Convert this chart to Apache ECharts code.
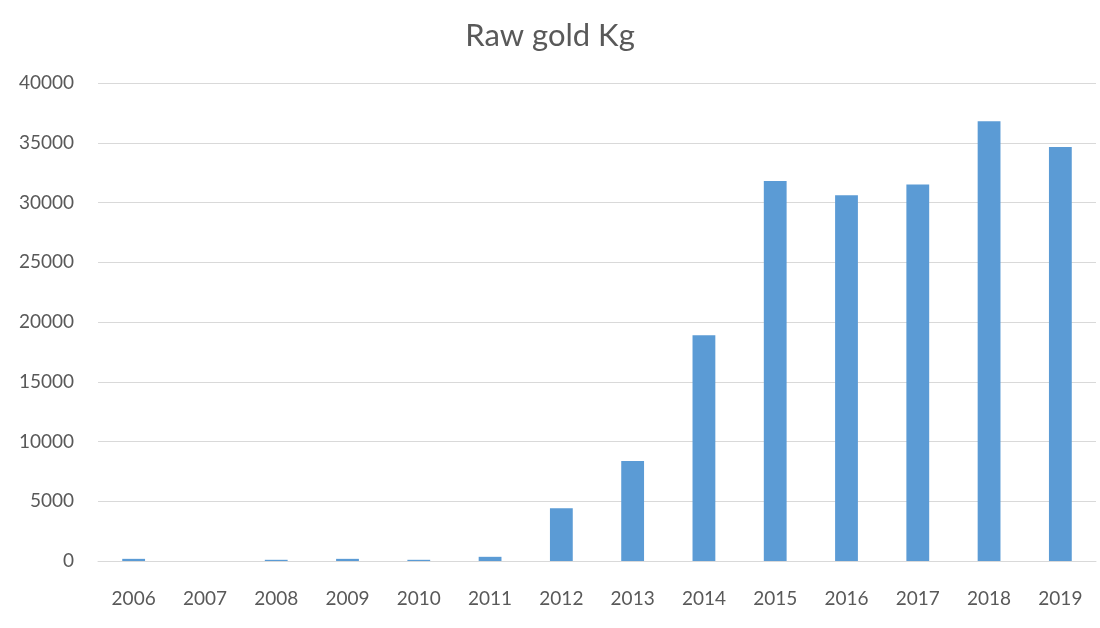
<!DOCTYPE html>
<html>
<head>
<meta charset="utf-8">
<script src="https://cdn.jsdelivr.net/npm/echarts@6/dist/echarts.min.js"></script>
<style>html,body{margin:0;padding:0;background:#fff}#c{width:1100px;height:628px}</style>
</head>
<body>
<div id="c"></div>
<script>
const titleText = 'Raw gold Kg';
const years = ['2006','2007','2008','2009','2010','2011','2012','2013','2014','2015','2016','2017','2018','2019'];
const goldKg = [180, 0, 100, 180, 100, 350, 4420, 8370, 18900, 31800, 30600, 31500, 36800, 34650];
const yTicks = {min: 0, max: 40000, interval: 5000};

const chart = echarts.init(document.getElementById('c'));
chart.setOption({
  animation: false,
  backgroundColor: '#fff',
  textStyle: {fontFamily: 'Lato'},
  title: {
    text: titleText, left: 'center', top: 15,
    textStyle: {fontFamily: 'Lato', fontSize: 31, fontWeight: 'normal', color: '#595959'}
  },
  grid: {left: 98, right: 4, top: 83, bottom: 67, containLabel: false},
  xAxis: {
    type: 'category', data: years,
    axisLine: {lineStyle: {color: '#D9D9D9', width: 1}},
    axisTick: {show: false},
    axisLabel: {color: '#595959', fontSize: 19, margin: 28}
  },
  yAxis: {
    type: 'value', min: yTicks.min, max: yTicks.max, interval: yTicks.interval,
    axisLine: {show: false}, axisTick: {show: false},
    splitLine: {lineStyle: {color: '#D9D9D9', width: 1}},
    axisLabel: {color: '#595959', fontSize: 19, margin: 24, formatter: v => String(v)}
  },
  series: [{
    type: 'bar', data: goldKg, barWidth: '32%',
    itemStyle: {color: '#5B9BD5'}
  }]
});
</script>
</body>
</html>
